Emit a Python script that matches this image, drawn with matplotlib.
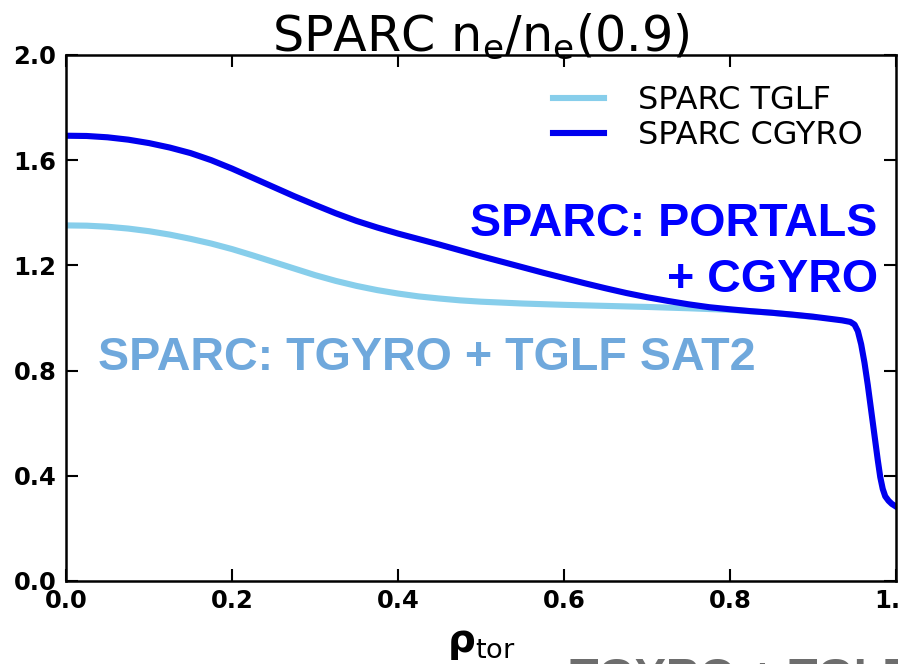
import matplotlib
matplotlib.use("Agg")
import matplotlib.pyplot as plt

plt.rcParams["font.family"] = "DejaVu Sans"
plt.rcParams["mathtext.default"] = "regular"

# normalized density profiles n_e / n_e(0.9) vs rho_tor
rho_cgyro = [0.000, 0.025, 0.050, 0.075, 0.100, 0.125, 0.150, 0.175, 0.200, 0.225,
             0.250, 0.275, 0.300, 0.325, 0.350, 0.375, 0.400, 0.425, 0.450, 0.475,
             0.500, 0.525, 0.550, 0.575, 0.600, 0.625, 0.650, 0.675, 0.700, 0.725,
             0.750, 0.775, 0.800, 0.825, 0.850, 0.875, 0.900, 0.920, 0.935, 0.945,
             0.950, 0.954, 0.958, 0.962, 0.966, 0.970, 0.974, 0.978, 0.981, 0.984,
             0.987, 0.991, 0.995, 1.000]
ne_cgyro = [1.693, 1.692, 1.687, 1.678, 1.665, 1.648, 1.627, 1.600, 1.568, 1.533,
            1.498, 1.463, 1.430, 1.398, 1.369, 1.344, 1.321, 1.300, 1.279, 1.257,
            1.235, 1.214, 1.193, 1.172, 1.152, 1.132, 1.113, 1.095, 1.079, 1.065,
            1.052, 1.041, 1.033, 1.026, 1.020, 1.013, 1.005, 0.997, 0.991, 0.985,
            0.975, 0.950, 0.900, 0.830, 0.745, 0.650, 0.555, 0.460, 0.395, 0.350,
            0.322, 0.305, 0.293, 0.283]

rho_tglf = [0.000, 0.025, 0.050, 0.075, 0.100, 0.125, 0.150, 0.175, 0.200, 0.225,
            0.250, 0.275, 0.300, 0.325, 0.350, 0.375, 0.400, 0.425, 0.450, 0.475,
            0.500, 0.550, 0.600, 0.650, 0.700, 0.750, 0.800, 0.850, 0.900]
ne_tglf = [1.352, 1.351, 1.347, 1.340, 1.330, 1.317, 1.301, 1.283, 1.262, 1.238,
           1.213, 1.188, 1.163, 1.141, 1.122, 1.106, 1.093, 1.082, 1.074, 1.067,
           1.062, 1.055, 1.050, 1.046, 1.042, 1.037, 1.031, 1.020, 1.004]

xticks = [0.0, 0.2, 0.4, 0.6, 0.8, 1.0]
yticks = [0.0, 0.4, 0.8, 1.2, 1.6, 2.0]

fig = plt.figure(figsize=(8.98, 6.64), dpi=100)
ax = fig.add_axes([0.0735, 0.125, 0.9243, 0.7922])

ax.plot(rho_tglf, ne_tglf, color="skyblue", lw=4.4, label="SPARC TGLF")
ax.plot(rho_cgyro, ne_cgyro, color="#0000ee", lw=4.4, label="SPARC CGYRO")

ax.set_xlim(0, 1)
ax.set_ylim(0, 2)
ax.set_xticks(xticks)
ax.set_yticks(yticks)
ax.set_xticklabels([f"{t:.1f}" for t in xticks], fontsize=17.5, fontweight="bold")
ax.set_yticklabels([f"{t:.1f}" for t in yticks], fontsize=17.5, fontweight="bold")
ax.tick_params(direction="in", length=8.6, width=1.5, top=True, right=True)
ax.tick_params(axis="x", pad=6)
ax.tick_params(axis="y", pad=7)
for sp in ax.spines.values():
    sp.set_linewidth(1.8)

ax.set_title(r"SPARC $n_e/n_e(0.9)$", fontsize=35.4, pad=3)
ax.set_xlabel(r"$\mathbf{\rho}_{tor}$", fontsize=28, labelpad=8)

leg = ax.legend(loc="upper left", bbox_to_anchor=(0.587, 0.943), frameon=False,
                fontsize=23, handlelength=1.6, handletextpad=1.05,
                labelspacing=0.12, borderaxespad=0, borderpad=0)

bold = dict(family="Liberation Sans", fontweight="bold", fontsize=33.6)
ax.text(0.978, 1.312, "SPARC: PORTALS", color="#0000ff", ha="right", va="baseline", **bold)
ax.text(0.978, 1.099, "+ CGYRO", color="#0000ff", ha="right", va="baseline", **bold)
ax.text(0.0386, 0.802, "SPARC: TGYRO + TGLF SAT2", color="#6fa8dc",
        ha="left", va="baseline", **bold)
# slide caption that runs off the bottom edge
fig.text(570 / 898, 1 - 691 / 664, "TGYRO + TGLF", color="#6d6d6d",
         ha="left", va="baseline", **bold)

fig.savefig("out.png", dpi=100)
